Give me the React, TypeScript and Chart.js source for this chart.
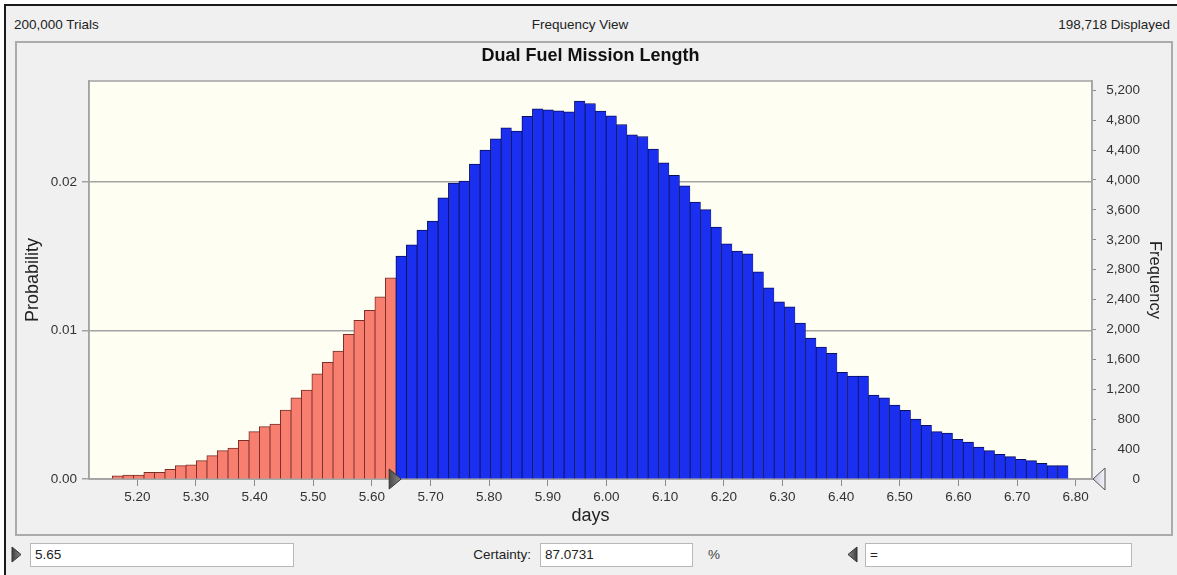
import React, { useEffect, useRef } from "react";
import { Chart, registerables } from "chart.js";

Chart.register(...registerables);

// ---------- data ----------
const chartTitle = "Dual Fuel Mission Length";
const trialsText = "200,000 Trials";
const viewText = "Frequency View";
const displayedCount = 198718;
const xAxisTitle = "days";
const leftAxisTitle = "Probability";
const rightAxisTitle = "Frequency";

// histogram bins (left edge of first bin and bin width, in days)
const binStart = 5.1574;
const binWidth = 0.017907;

// frequency (count) in each bin, left to right
const frequencies = [
  44, 53, 53, 89, 89, 129, 178, 191, 245, 312,
  379, 414, 517, 633, 700, 735, 922, 1087, 1190, 1408,
  1560, 1711, 1935, 2122, 2256, 2438, 2692,
  2982, 3133, 3329, 3450, 3761, 3958, 3984, 4212, 4399, 4550,
  4697, 4653, 4853, 4951, 4938, 4924, 4911, 5054, 5023, 4920,
  4858, 4742, 4604, 4582, 4412, 4229, 4061, 3922, 3704, 3604,
  3369, 3146, 3049, 3013, 2772, 2558, 2371, 2304, 2086, 1885,
  1765, 1680, 1427, 1377, 1377, 1123, 1087, 989, 918, 802,
  718, 633, 615, 530, 495, 428, 379, 330, 299, 263,
  245, 210, 178, 178,
];

const xTickLabels = [
  "5.20", "5.30", "5.40", "5.50", "5.60", "5.70", "5.80", "5.90", "6.00",
  "6.10", "6.20", "6.30", "6.40", "6.50", "6.60", "6.70", "6.80",
];
const probTickLabels = ["0.00", "0.01", "0.02"];
const freqTickLabels = [
  "0", "400", "800", "1,200", "1,600", "2,000", "2,400", "2,800",
  "3,200", "3,600", "4,000", "4,400", "4,800", "5,200",
];

const xMin = 5.1177;
const xMax = 6.8278;
const freqMax = 5324;

const certaintyLower = 5.65;
const certaintyValue = "87.0731";
const upperBoxText = "=";

// ---------- styles ----------
const FONT = "'Liberation Sans', Arial, Helvetica, sans-serif";
const RED = "#f87f70";
const RED_BORDER = "#7a3028";
const BLUE = "#1a2ff0";
const BLUE_BORDER = "#0a0f5c";
const GRID = "#a3a3a3";
const TEXT = "#333333";

const plotDecor = {
  id: "plotDecor",
  beforeDraw(chart: any) {
    const { ctx, chartArea } = chart;
    const { left, top, width, height } = chartArea;
    ctx.save();
    ctx.fillStyle = "#fefef3";
    ctx.fillRect(left, top, width, height);
    ctx.restore();
  },
  beforeDatasetsDraw(chart: any) {
    const { ctx, chartArea } = chart;
    const { left, top, right, bottom } = chartArea;
    ctx.save();
    ctx.strokeStyle = GRID;
    ctx.lineWidth = 1.5;
    ctx.strokeRect(left, top, right - left, bottom - top);
    ctx.restore();
  },
  afterDraw(chart: any) {
    const { ctx, chartArea, scales } = chart;
    const yBase = chartArea.bottom;
    // lower certainty marker (right-pointing) at certaintyLower
    const tipX = scales.x.getPixelForValue(certaintyLower);
    ctx.save();
    let g = ctx.createLinearGradient(tipX - 12, 0, tipX, 0);
    g.addColorStop(0, "#4a4a4a");
    g.addColorStop(1, "#8a8a8a");
    ctx.beginPath();
    ctx.moveTo(tipX, yBase);
    ctx.lineTo(tipX - 12, yBase - 10);
    ctx.lineTo(tipX - 12, yBase + 10);
    ctx.closePath();
    ctx.fillStyle = g;
    ctx.fill();
    ctx.strokeStyle = "#333";
    ctx.lineWidth = 1;
    ctx.stroke();
    // upper certainty marker (left-pointing) at right edge
    const rx = chartArea.right + 1;
    g = ctx.createLinearGradient(rx, 0, rx + 12, 0);
    g.addColorStop(0, "#c9c9db");
    g.addColorStop(1, "#f2f2f8");
    ctx.beginPath();
    ctx.moveTo(rx, yBase);
    ctx.lineTo(rx + 12, yBase - 11);
    ctx.lineTo(rx + 12, yBase + 11);
    ctx.closePath();
    ctx.fillStyle = g;
    ctx.fill();
    ctx.strokeStyle = "#555";
    ctx.lineWidth = 1;
    ctx.stroke();
    ctx.restore();
  },
};

function ChartCanvas() {
  const ref = useRef<HTMLCanvasElement | null>(null);
  useEffect(() => {
    if (!ref.current) return;
    const points = frequencies.map((f, i) => ({
      x: binStart + (i + 0.5) * binWidth,
      y: f,
    }));
    const isRed = (i: number) => binStart + (i + 1) * binWidth <= certaintyLower;
    const bg = frequencies.map((_, i) => (isRed(i) ? RED : BLUE));
    const bc = frequencies.map((_, i) => (isRed(i) ? RED_BORDER : BLUE_BORDER));
    const xTicks = xTickLabels.map((s) => parseFloat(s));
    const probTicks = probTickLabels.map((s) => parseFloat(s));
    const freqTicks = freqTickLabels.map((s) => Number(s.replace(/,/g, "")));

    const chart = new Chart(ref.current, {
      type: "bar",
      data: {
        datasets: [
          {
            label: rightAxisTitle,
            data: points as any,
            xAxisID: "x",
            yAxisID: "y",
            backgroundColor: bg,
            borderColor: bc,
            borderWidth: { left: 1, right: 0.5, top: 1, bottom: 0 } as any,
            barPercentage: 1,
            categoryPercentage: 1,
          },
        ],
      },
      options: {
        animation: false,
        responsive: false,
        maintainAspectRatio: false,
        layout: { padding: 0 },
        plugins: {
          legend: { display: false },
          tooltip: { enabled: false },
          title: {
            display: true,
            text: chartTitle,
            fullSize: false,
            color: "#111",
            font: { family: FONT, size: 18, weight: "bold" },
            padding: { top: 2, bottom: 14.4 },
          },
        },
        scales: {
          x: {
            type: "linear",
            position: "bottom",
            offset: false,
            min: xMin,
            max: xMax,
            afterBuildTicks: (s: any) => {
              s.ticks = xTicks.map((v) => ({ value: v }));
            },
            afterFit: (s: any) => {
              s.height = 54;
            },
            grid: {
              offset: false,
              drawOnChartArea: false,
              drawTicks: true,
              tickLength: 7,
              color: "#8c8c8c",
            },
            border: { display: true, color: GRID, width: 1.5 },
            ticks: {
              autoSkip: false,
              maxRotation: 0,
              padding: 3,
              color: TEXT,
              font: { family: FONT, size: 13.5 },
              callback: (_v: any, i: number) => xTickLabels[i],
            },
            title: {
              display: true,
              text: xAxisTitle,
              color: "#222",
              font: { family: FONT, size: 18 },
              padding: { top: 0, bottom: 6.2 },
            },
          },
          yProb: {
            type: "linear",
            position: "left",
            min: 0,
            max: freqMax / displayedCount,
            weight: 1,
            afterBuildTicks: (s: any) => {
              s.ticks = probTicks.map((v) => ({ value: v }));
            },
            afterFit: (s: any) => {
              s.width = 72;
            },
            grid: {
              drawOnChartArea: true,
              drawTicks: true,
              tickLength: 7,
              color: GRID,
              lineWidth: 1.5,
            },
            border: { display: true, color: GRID, width: 1.5 },
            ticks: {
              padding: 5,
              color: TEXT,
              font: { family: FONT, size: 13.5 },
              callback: (_v: any, i: number) => probTickLabels[i],
            },
            title: {
              display: true,
              text: leftAxisTitle,
              color: "#222",
              font: { family: FONT, size: 18 },
              padding: { top: 5.2, bottom: 0 },
            },
          },
          y: {
            type: "linear",
            position: "right",
            min: 0,
            max: freqMax,
            weight: 1,
            afterBuildTicks: (s: any) => {
              s.ticks = freqTicks.map((v) => ({ value: v }));
            },
            afterFit: (s: any) => {
              s.width = 48;
            },
            grid: {
              drawOnChartArea: false,
              drawTicks: true,
              tickLength: 4,
              color: "#8c8c8c",
            },
            border: { display: true, color: GRID, width: 1.5 },
            ticks: {
              padding: 11.5,
              crossAlign: "far",
              color: TEXT,
              font: { family: FONT, size: 13.5 },
              callback: (_v: any, i: number) => freqTickLabels[i],
            },
          },
          yTitle: {
            type: "linear",
            position: "right",
            weight: 2,
            min: 0,
            max: 1,
            afterFit: (s: any) => {
              s.width = 31;
            },
            grid: { display: false },
            border: { display: false },
            ticks: { display: false },
            title: {
              display: true,
              text: rightAxisTitle,
              color: "#222",
              font: { family: FONT, size: 16.5 },
              padding: { top: 6.4, bottom: 0 },
            },
          },
        },
      } as any,
      plugins: [plotDecor],
    });
    return () => chart.destroy();
  }, []);
  return (
    <canvas
      ref={ref}
      width={1154}
      height={490}
      style={{ position: "absolute", left: 17, top: 43, width: 1154, height: 490 }}
    />
  );
}

function Tri({ left, top, dir }: { left: number; top: number; dir: "right" | "left" }) {
  const pts = dir === "right" ? "1,1 10,8.5 1,16" : "10,1 1,8.5 10,16";
  const gid = "g" + dir;
  return (
    <svg
      width={11}
      height={17}
      style={{ position: "absolute", left, top }}
      viewBox="0 0 11 17"
    >
      <defs>
        <linearGradient id={gid} x1="0" y1="0" x2="1" y2="0">
          <stop offset="0" stopColor={dir === "right" ? "#3f3f3f" : "#8a8a8a"} />
          <stop offset="1" stopColor={dir === "right" ? "#8a8a8a" : "#3f3f3f"} />
        </linearGradient>
      </defs>
      <polygon points={pts} fill={`url(#${gid})`} stroke="#333" strokeWidth={1} />
    </svg>
  );
}

const boxStyle = (left: number, width: number): React.CSSProperties => ({
  position: "absolute",
  left,
  top: 543,
  width,
  height: 24,
  boxSizing: "border-box",
  border: "1px solid #b8b8b8",
  background: "#fff",
  paddingLeft: 4,
  fontSize: 13.5,
  lineHeight: "22px",
  color: "#222",
});

export default function App() {
  const textStyle: React.CSSProperties = {
    position: "absolute",
    fontSize: 13.5,
    lineHeight: "16px",
    color: "#222",
    whiteSpace: "nowrap",
  };
  return (
    <div
      style={{
        position: "fixed",
        left: 0,
        top: 0,
        width: 1177,
        height: 575,
        background: "#ffffff",
        overflow: "hidden",
        fontFamily: FONT,
      }}
    >
      <div
        style={{
          position: "absolute",
          left: 4,
          top: 4,
          width: 1173,
          height: 571,
          background: "#f0f0f0",
          borderLeft: "2px solid #1a1a1a",
          borderTop: "2px solid #1a1a1a",
          boxSizing: "border-box",
        }}
      />
      <div style={{ ...textStyle, left: 14, top: 17 }}>{trialsText}</div>
      <div style={{ ...textStyle, left: 480, top: 17, width: 200, textAlign: "center" }}>
        {viewText}
      </div>
      <div style={{ ...textStyle, right: 7, top: 17 }}>
        {displayedCount.toLocaleString("en-US") + " Displayed"}
      </div>
      <div
        style={{
          position: "absolute",
          left: 15,
          top: 41,
          width: 1158,
          height: 495,
          border: "2px solid #ababab",
          boxSizing: "border-box",
        }}
      />
      <ChartCanvas />
      <Tri left={11} top={546} dir="right" />
      <div style={boxStyle(30, 264)}>{certaintyLower.toFixed(2)}</div>
      <div style={{ ...textStyle, left: 431, top: 547, width: 100, textAlign: "right" }}>
        Certainty:
      </div>
      <div style={boxStyle(540, 153)}>{certaintyValue}</div>
      <div style={{ ...textStyle, left: 708, top: 547, color: "#444" }}>%</div>
      <Tri left={847} top={546} dir="left" />
      <div style={boxStyle(865, 267)}>{upperBoxText}</div>
    </div>
  );
}
